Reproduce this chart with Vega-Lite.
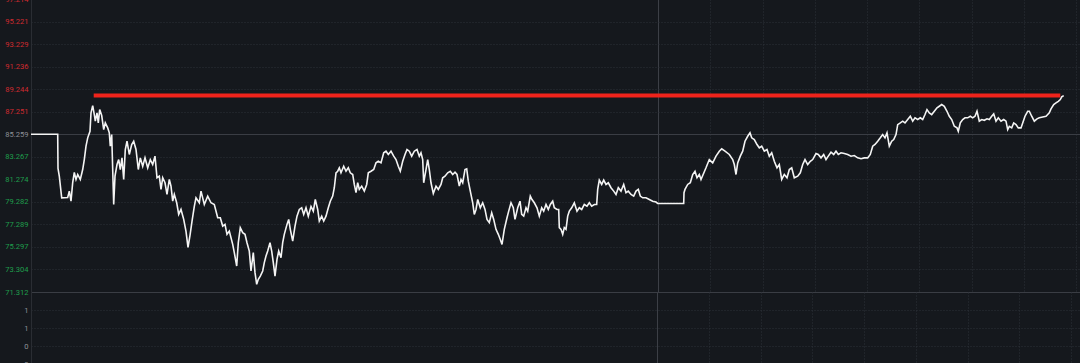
{
  "$schema": "https://vega.github.io/schema/vega-lite/v6.json",
  "background": "#15181d",
  "padding": {"left": 4, "top": -5, "right": 0, "bottom": 0},
  "spacing": 0,
  "bounds": "flush",
  "config": {
    "view": {"stroke": null},
    "axis": {"labelFont": "Roboto", "labelFontSize": 7.6, "labelOverlap": false, "ticks": false, "title": null, "domainColor": "#2a2d33", "labelPadding": 3}
  },
  "datasets": {
    "price": [
      {"t":0,"p":85.26},{"t":26.7,"p":85.26},{"t":27,"p":82.23},{"t":28.3,"p":81.55},{"t":30.7,"p":79.64},{"t":36.7,"p":79.67},{"t":38.3,"p":80.23},{"t":40,"p":79.34},{"t":41.7,"p":80.99},{"t":43.3,"p":81.88},{"t":45,"p":81.26},{"t":46.7,"p":81.7},{"t":49.3,"p":81.26},{"t":51.7,"p":82.14},{"t":53.3,"p":83.02},{"t":55,"p":84.2},{"t":56.7,"p":84.94},{"t":59,"p":85.52},{"t":60,"p":87.15},{"t":61.7,"p":87.79},{"t":63.3,"p":87.0},{"t":64.3,"p":86.41},{"t":66,"p":87.15},{"t":67.3,"p":86.26},{"t":68.7,"p":87.44},{"t":70.7,"p":86.91},{"t":72.7,"p":85.67},{"t":74.3,"p":86.26},{"t":76.7,"p":85.82},{"t":78.3,"p":85.38},{"t":79.3,"p":84.2},{"t":80.7,"p":85.23},{"t":82.7,"p":79.05},{"t":84,"p":81.55},{"t":86,"p":82.58},{"t":87.7,"p":83.02},{"t":89.3,"p":82.14},{"t":91,"p":83.17},{"t":92.7,"p":81.26},{"t":94.3,"p":83.91},{"t":96,"p":84.64},{"t":98.3,"p":83.47},{"t":100.7,"p":84.35},{"t":102.7,"p":84.64},{"t":105,"p":83.91},{"t":107.3,"p":82.14},{"t":109.3,"p":83.17},{"t":111.7,"p":82.43},{"t":114,"p":83.17},{"t":116.7,"p":82.29},{"t":119.3,"p":83.02},{"t":121.7,"p":82.58},{"t":124,"p":83.32},{"t":126,"p":81.41},{"t":128.3,"p":81.55},{"t":130,"p":80.38},{"t":131.7,"p":81.41},{"t":134,"p":80.97},{"t":136,"p":79.94},{"t":138.3,"p":81.26},{"t":140,"p":80.67},{"t":141.7,"p":79.34},{"t":143.3,"p":79.94},{"t":145.7,"p":79.2},{"t":147.7,"p":78.17},{"t":150,"p":78.61},{"t":152.7,"p":77.73},{"t":155,"p":76.67},{"t":157,"p":75.26},{"t":159,"p":76.32},{"t":161,"p":77.55},{"t":163.3,"p":78.88},{"t":165,"p":79.64},{"t":168.3,"p":79.2},{"t":170,"p":80.23},{"t":173.3,"p":79.05},{"t":176.7,"p":79.79},{"t":180,"p":79.2},{"t":183.3,"p":79.05},{"t":186.7,"p":77.88},{"t":189.3,"p":77.88},{"t":191.7,"p":77.14},{"t":194,"p":77.29},{"t":196,"p":76.41},{"t":198.3,"p":76.7},{"t":201.7,"p":75.52},{"t":203.3,"p":74.79},{"t":205.7,"p":73.61},{"t":207.3,"p":75.67},{"t":209.3,"p":77.0},{"t":211.7,"p":76.56},{"t":214,"p":76.41},{"t":216,"p":75.67},{"t":218.3,"p":74.93},{"t":220,"p":73.17},{"t":222.3,"p":74.79},{"t":224,"p":73.02},{"t":225.7,"p":71.99},{"t":227.3,"p":72.43},{"t":229.3,"p":72.72},{"t":231.7,"p":73.17},{"t":233.3,"p":73.91},{"t":235,"p":74.49},{"t":236.7,"p":74.93},{"t":239,"p":75.67},{"t":240.7,"p":74.93},{"t":242.3,"p":73.91},{"t":244,"p":72.72},{"t":246,"p":74.2},{"t":247.7,"p":74.93},{"t":250,"p":74.35},{"t":251.7,"p":75.67},{"t":253.3,"p":76.41},{"t":256,"p":77.29},{"t":257.7,"p":77.73},{"t":259.3,"p":76.85},{"t":261.7,"p":75.81},{"t":264,"p":77.14},{"t":266,"p":78.02},{"t":268.3,"p":78.61},{"t":270.7,"p":78.76},{"t":272.7,"p":78.17},{"t":275,"p":78.76},{"t":277.3,"p":78.02},{"t":280,"p":78.88},{"t":282.3,"p":78.46},{"t":284.3,"p":79.49},{"t":286.7,"p":78.61},{"t":288.3,"p":77.58},{"t":290.7,"p":78.02},{"t":292.7,"p":77.58},{"t":295,"p":78.02},{"t":297.3,"p":78.76},{"t":299.3,"p":79.34},{"t":301.7,"p":79.79},{"t":303.3,"p":80.53},{"t":305,"p":81.85},{"t":306.7,"p":81.99},{"t":308.3,"p":82.29},{"t":310,"p":81.85},{"t":312.7,"p":82.43},{"t":315,"p":81.99},{"t":317.3,"p":82.29},{"t":319.3,"p":81.85},{"t":321.7,"p":81.7},{"t":323.3,"p":80.82},{"t":325,"p":80.09},{"t":326.7,"p":80.97},{"t":328.3,"p":80.38},{"t":330.7,"p":80.67},{"t":333.3,"p":80.23},{"t":335.7,"p":80.82},{"t":337.3,"p":81.85},{"t":340,"p":81.99},{"t":342.7,"p":82.14},{"t":345,"p":82.73},{"t":347.3,"p":82.87},{"t":350,"p":82.73},{"t":352.7,"p":83.62},{"t":355,"p":83.76},{"t":357.3,"p":83.47},{"t":360,"p":83.76},{"t":362.7,"p":83.32},{"t":365,"p":83.02},{"t":367.3,"p":82.43},{"t":369.3,"p":81.99},{"t":371.7,"p":82.87},{"t":374,"p":83.47},{"t":376,"p":83.91},{"t":378.3,"p":83.76},{"t":380.7,"p":83.32},{"t":383.3,"p":83.76},{"t":386,"p":83.91},{"t":388.3,"p":83.32},{"t":390,"p":83.62},{"t":391.7,"p":83.02},{"t":392.7,"p":80.97},{"t":395,"p":82.14},{"t":396.7,"p":83.02},{"t":398.3,"p":82.14},{"t":400,"p":80.97},{"t":402.3,"p":80.02},{"t":405,"p":80.67},{"t":407.3,"p":80.38},{"t":410,"p":80.82},{"t":411.7,"p":81.41},{"t":414,"p":81.55},{"t":416.7,"p":81.85},{"t":419.3,"p":81.99},{"t":421.7,"p":81.7},{"t":424,"p":81.9},{"t":426,"p":81.7},{"t":428.3,"p":80.67},{"t":430,"p":81.26},{"t":431.7,"p":80.97},{"t":434,"p":82.14},{"t":435.7,"p":82.2},{"t":437.3,"p":81.11},{"t":439.3,"p":80.23},{"t":441.7,"p":79.2},{"t":443.3,"p":78.17},{"t":445,"p":78.61},{"t":446.7,"p":79.49},{"t":449.3,"p":78.76},{"t":451.7,"p":79.2},{"t":454,"p":78.61},{"t":456,"p":77.73},{"t":458.3,"p":77.44},{"t":460.7,"p":78.32},{"t":462.7,"p":77.73},{"t":465,"p":76.85},{"t":467.3,"p":76.41},{"t":469.3,"p":75.96},{"t":471,"p":75.52},{"t":473.3,"p":76.85},{"t":476,"p":77.88},{"t":477.7,"p":78.46},{"t":480,"p":79.2},{"t":482.3,"p":78.76},{"t":484,"p":77.73},{"t":486.7,"p":78.76},{"t":489,"p":79.34},{"t":490.7,"p":78.17},{"t":492.7,"p":78.02},{"t":495,"p":78.76},{"t":496.7,"p":78.46},{"t":499.3,"p":79.79},{"t":501,"p":79.49},{"t":503.3,"p":79.2},{"t":506,"p":78.76},{"t":508.3,"p":78.02},{"t":510.7,"p":78.76},{"t":512.7,"p":78.46},{"t":515,"p":79.05},{"t":517.3,"p":78.61},{"t":519.3,"p":79.05},{"t":521.7,"p":79.34},{"t":523.3,"p":78.76},{"t":526,"p":78.61},{"t":527.7,"p":78.61},{"t":528.3,"p":77.0},{"t":530,"p":76.85},{"t":531.7,"p":76.41},{"t":533.3,"p":77.0},{"t":535,"p":76.85},{"t":536.7,"p":78.02},{"t":538.3,"p":78.46},{"t":540.7,"p":78.76},{"t":543.3,"p":79.2},{"t":546,"p":78.46},{"t":548.3,"p":78.76},{"t":550.7,"p":78.61},{"t":553.3,"p":79.05},{"t":556,"p":78.9},{"t":558.3,"p":79.2},{"t":560.7,"p":78.9},{"t":563.3,"p":79.05},{"t":565.7,"p":79.05},{"t":566.7,"p":80.38},{"t":568.3,"p":81.2},{"t":570.7,"p":80.82},{"t":572.7,"p":81.2},{"t":575,"p":80.82},{"t":577.3,"p":80.97},{"t":580,"p":80.53},{"t":582.7,"p":80.23},{"t":585,"p":79.94},{"t":587.3,"p":80.53},{"t":590,"p":80.23},{"t":592.7,"p":80.82},{"t":595,"p":80.09},{"t":597.3,"p":80.23},{"t":600,"p":79.94},{"t":602.7,"p":79.79},{"t":605,"p":80.23},{"t":607.3,"p":80.38},{"t":609.3,"p":79.79},{"t":611.7,"p":79.64},{"t":615,"p":79.64},{"t":618.3,"p":79.49},{"t":621.7,"p":79.34},{"t":625,"p":79.26},{"t":626.7,"p":79.14},{"t":652.7,"p":79.14},{"t":653,"p":80.09},{"t":654,"p":80.38},{"t":656.7,"p":80.82},{"t":659.3,"p":80.97},{"t":661.7,"p":81.7},{"t":664,"p":81.99},{"t":666,"p":81.41},{"t":668.3,"p":81.7},{"t":670,"p":81.26},{"t":675,"p":82.29},{"t":678.3,"p":83.02},{"t":681.7,"p":82.73},{"t":685,"p":83.32},{"t":688.3,"p":83.76},{"t":690.7,"p":83.97},{"t":694,"p":83.76},{"t":698.3,"p":83.47},{"t":701.7,"p":83.02},{"t":703.3,"p":82.58},{"t":705,"p":81.7},{"t":706.7,"p":82.73},{"t":709.3,"p":83.32},{"t":711.7,"p":83.76},{"t":714,"p":84.64},{"t":716.7,"p":85.08},{"t":719,"p":85.38},{"t":720.7,"p":84.94},{"t":723.3,"p":84.79},{"t":726,"p":84.35},{"t":728.3,"p":84.06},{"t":730.7,"p":84.2},{"t":733.3,"p":83.76},{"t":736,"p":83.91},{"t":738.3,"p":83.32},{"t":740.7,"p":83.62},{"t":743.3,"p":82.87},{"t":746,"p":82.29},{"t":748.3,"p":82.58},{"t":750.7,"p":81.26},{"t":753.3,"p":81.7},{"t":756,"p":81.41},{"t":758.3,"p":82.14},{"t":760.7,"p":82.29},{"t":763.3,"p":81.41},{"t":766.7,"p":81.55},{"t":769.3,"p":81.85},{"t":771.7,"p":82.58},{"t":774,"p":83.02},{"t":776.7,"p":82.58},{"t":779.3,"p":82.87},{"t":781.7,"p":83.02},{"t":785,"p":83.55},{"t":787.3,"p":83.47},{"t":790,"p":83.17},{"t":792.7,"p":83.47},{"t":795,"p":83.02},{"t":797.3,"p":83.32},{"t":800,"p":83.67},{"t":802.7,"p":83.47},{"t":805,"p":83.76},{"t":807.3,"p":83.47},{"t":810,"p":83.62},{"t":813.3,"p":83.55},{"t":816.7,"p":83.47},{"t":820,"p":83.32},{"t":823.3,"p":83.38},{"t":826.7,"p":83.17},{"t":830,"p":83.09},{"t":833.3,"p":83.17},{"t":836.7,"p":83.17},{"t":839.3,"p":83.47},{"t":841.7,"p":84.2},{"t":844,"p":84.35},{"t":846.7,"p":84.64},{"t":849.3,"p":84.94},{"t":851.7,"p":85.23},{"t":854,"p":84.94},{"t":856,"p":85.38},{"t":858.3,"p":84.2},{"t":860.7,"p":84.64},{"t":862.7,"p":84.79},{"t":865,"p":85.23},{"t":866.7,"p":86.11},{"t":869.3,"p":86.26},{"t":871.7,"p":86.41},{"t":874,"p":86.26},{"t":876.7,"p":86.56},{"t":879.3,"p":86.85},{"t":881.7,"p":86.41},{"t":884,"p":86.71},{"t":886.7,"p":86.56},{"t":889.3,"p":86.71},{"t":891.7,"p":86.56},{"t":894,"p":87.0},{"t":896,"p":87.44},{"t":898.3,"p":87.15},{"t":900.7,"p":87.0},{"t":903.3,"p":87.29},{"t":906,"p":87.59},{"t":908.3,"p":87.73},{"t":910.7,"p":87.88},{"t":913.3,"p":87.73},{"t":916,"p":87.29},{"t":918.3,"p":86.85},{"t":920.7,"p":86.56},{"t":923.3,"p":85.96},{"t":926,"p":85.82},{"t":927.3,"p":85.52},{"t":929.3,"p":86.26},{"t":931.7,"p":86.56},{"t":934,"p":86.71},{"t":936.7,"p":86.71},{"t":939.3,"p":86.85},{"t":941.7,"p":86.71},{"t":944,"p":86.85},{"t":946,"p":87.29},{"t":948.3,"p":86.41},{"t":950.7,"p":86.56},{"t":953.3,"p":86.49},{"t":956,"p":86.62},{"t":958.3,"p":86.56},{"t":960.7,"p":86.85},{"t":962.7,"p":87.06},{"t":965,"p":86.41},{"t":967.3,"p":86.71},{"t":970,"p":86.41},{"t":972.7,"p":86.56},{"t":975,"p":86.41},{"t":976.7,"p":85.67},{"t":978.3,"p":85.96},{"t":980.7,"p":85.82},{"t":982.7,"p":86.26},{"t":985,"p":86.11},{"t":987.3,"p":85.82},{"t":990,"p":85.82},{"t":991.7,"p":86.26},{"t":994,"p":86.85},{"t":996.7,"p":87.29},{"t":998.3,"p":87.29},{"t":1000.7,"p":86.85},{"t":1003.3,"p":86.41},{"t":1006,"p":86.62},{"t":1008.3,"p":86.71},{"t":1011.7,"p":86.79},{"t":1015,"p":86.85},{"t":1018.3,"p":87.15},{"t":1020,"p":87.5},{"t":1022.7,"p":87.88},{"t":1025,"p":88.03},{"t":1027.3,"p":88.17},{"t":1029.3,"p":88.32},{"t":1030.7,"p":88.56},{"t":1032.7,"p":88.67}
    ],
    "level": [{"start": 62.7, "end": 1029.3, "level": 88.69}],
    "volume": []
  },
  "vconcat": [
    {
      "width": 1050,
      "height": 293,
      "layer": [
        {
          "data": {"name": "price"},
          "mark": {"type": "line", "color": "#f4f4f4", "strokeWidth": 1.6, "interpolate": "linear"},
          "encoding": {
            "x": {
              "field": "t", "type": "quantitative",
              "scale": {"domain": [0, 1050], "nice": false, "zero": false},
              "axis": {
                "values": [627.3, 679.3, 731.5, 783.8, 836, 888.3, 940.5, 992.8, 1045], "tickCount": 40,
                "labels": false, "domain": false, "grid": true, "minExtent": 0, "maxExtent": 0,
                "gridColor": {"condition": {"test": "datum.value < 630", "value": "#3c3f46"}, "value": "#2c3038"},
                "gridDash": {"condition": {"test": "datum.value < 630", "value": []}, "value": [1, 2]}
              }
            },
            "y": {
              "field": "p", "type": "quantitative",
              "scale": {"domain": [71.312, 97.214], "nice": false, "zero": false},
              "axis": {
                "values": [71.312, 73.304, 75.297, 77.289, 79.282, 81.274, 83.267, 85.259, 87.251, 89.244, 91.236, 93.229, 95.221, 97.214], "tickCount": 40,
                "format": ".3f", "grid": true, "labelOverlap": false,
                "gridColor": {"condition": {"test": "abs(datum.value - 85.259) < 0.01 || abs(datum.value - 71.312) < 0.01", "value": "#3a3d44"}, "value": "#2c3038"},
                "gridDash": {"condition": {"test": "abs(datum.value - 85.259) < 0.01 || abs(datum.value - 71.312) < 0.01", "value": []}, "value": [1, 2]},
                "labelColor": {"condition": [{"test": "datum.value > 85.3", "value": "#cf2a2f"}, {"test": "datum.value > 85.2", "value": "#8d9097"}], "value": "#1f9d4c"}
              }
            }
          }
        },
        {
          "data": {"name": "level"},
          "mark": {"type": "rule", "color": "#ef231b", "strokeWidth": 4},
          "encoding": {
            "x": {"field": "start", "type": "quantitative"},
            "x2": {"field": "end"},
            "y": {"field": "level", "type": "quantitative"}
          }
        }
      ]
    },
    {
      "width": 1050,
      "height": 90,
      "data": {"name": "volume"},
      "mark": "bar",
      "encoding": {
        "x": {
          "field": "t", "type": "quantitative",
          "scale": {"domain": [0, 1050], "nice": false, "zero": false},
          "axis": {
            "values": [627.3, 679.3, 731.5, 783.8, 836, 888.3, 940.5, 992.8, 1045], "tickCount": 40,
            "labels": false, "domain": false, "grid": true, "minExtent": 0, "maxExtent": 0,
            "gridColor": {"condition": {"test": "datum.value < 630", "value": "#3c3f46"}, "value": "#2c3038"},
            "gridDash": {"condition": {"test": "datum.value < 630", "value": []}, "value": [1, 2]}
          }
        },
        "y": {
          "field": "v", "type": "quantitative",
          "scale": {"domain": [-0.4, 1.6], "nice": false, "zero": false},
          "axis": {
            "values": [1.2, 0.8, 0.4, 0], "tickCount": 10,
            "format": ".0f", "grid": true, "gridColor": "#2c3038", "gridDash": [1, 2],
            "labelColor": "#8d9097", "labelOverlap": false
          }
        }
      }
    }
  ]
}
